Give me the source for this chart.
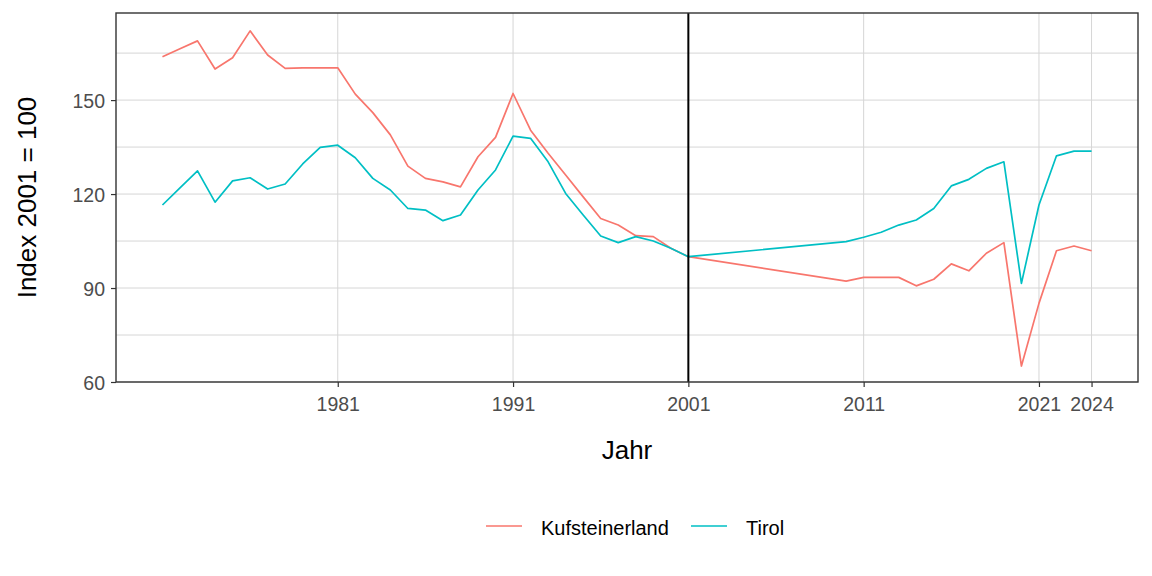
<!DOCTYPE html>
<html>
<head>
<meta charset="utf-8">
<script src="https://cdn.jsdelivr.net/npm/d3@7"></script>
<style>
  body { margin: 0; background: #fff; }
  svg { display: block; }
</style>
</head>
<body>
<div id="chart"></div>
<script>
  const years = [
    1971, 1972, 1973, 1974, 1975, 1976, 1977, 1978, 1979, 1980,
    1981, 1982, 1983, 1984, 1985, 1986, 1987, 1988, 1989, 1990,
    1991, 1992, 1993, 1994, 1995, 1996, 1997, 1998, 1999, 2000, 2001,
    2010, 2011, 2012, 2013, 2014, 2015, 2016, 2017, 2018, 2019,
    2020, 2021, 2022, 2023, 2024
  ];
  const kufsteinerland = [
    163.8, 166.4, 168.9, 159.9, 163.5, 172.1, 164.4, 160.1, 160.3, 160.3,
    160.3, 151.9, 146.0, 138.9, 128.9, 125.0, 123.9, 122.3, 131.9, 138.1,
    152.1, 140.4, 133.0, 126.1, 119.1, 112.2, 110.1, 106.7, 106.4, 102.7, 100,
    92.2, 93.4, 93.4, 93.4, 90.7, 92.8, 97.7, 95.5, 101.1, 104.5,
    65.1, 85.1, 101.9, 103.4, 101.9
  ];
  const tirol = [
    116.5, 122.0, 127.4, 117.4, 124.2, 125.2, 121.6, 123.2, 129.6, 134.9,
    135.6, 131.6, 125.0, 121.3, 115.4, 114.9, 111.5, 113.3, 121.3, 127.7,
    138.5, 137.8, 130.3, 120.2, 113.3, 106.6, 104.5, 106.4, 105.0, 102.7, 100,
    104.8, 106.2, 107.8, 110.1, 111.7, 115.4, 122.6, 124.7, 128.2, 130.3,
    91.5, 116.5, 132.2, 133.7, 133.7
  ];
  const seriesNames = ["Kufsteinerland", "Tirol"];
  const seriesColors = ["#F8766D", "#00BFC4"];
  const xTicks = [1981, 1991, 2001, 2011, 2021, 2024];
  const yTicks = [60, 90, 120, 150];
  const yMinorTicks = [75, 105, 135, 165];
  const refYear = 2001;

  (function() {
    const WIDTH = 1152;
    const HEIGHT = 576;
    const FONT = "'Liberation Sans', Arial, sans-serif";
    const GRIDCOLOR = "#d6d6d6";
    const TEXTCOLOR = "#4d4d4d";

    const panel = { left: 116, top: 13, right: 1138, bottom: 382 };

    const svg = d3
      .select("#chart")
      .append("svg")
      .attr("width", WIDTH)
      .attr("height", HEIGHT);

    // ggplot-ish 5% padding on x, fixed lower limit on y
    const xPad = (2024 - 1971) * 0.05;
    const x = d3
      .scaleLinear()
      .domain([1971 - xPad, 2024 + xPad])
      .range([panel.left, panel.right]);
    const y = d3
      .scaleLinear()
      .domain([60, 177.8])
      .range([panel.bottom, panel.top]);

    const grid = svg.append("g");
    grid
      .selectAll("line.minor")
      .data(yMinorTicks)
      .enter()
      .append("line")
      .attr("x1", panel.left)
      .attr("x2", panel.right)
      .attr("y1", d => y(d))
      .attr("y2", d => y(d))
      .attr("stroke", GRIDCOLOR)
      .attr("stroke-width", 1);
    grid
      .selectAll("line.majorY")
      .data(yTicks)
      .enter()
      .append("line")
      .attr("x1", panel.left)
      .attr("x2", panel.right)
      .attr("y1", d => y(d))
      .attr("y2", d => y(d))
      .attr("stroke", GRIDCOLOR)
      .attr("stroke-width", 1);
    grid
      .selectAll("line.majorX")
      .data(xTicks)
      .enter()
      .append("line")
      .attr("x1", d => x(d))
      .attr("x2", d => x(d))
      .attr("y1", panel.top)
      .attr("y2", panel.bottom)
      .attr("stroke", GRIDCOLOR)
      .attr("stroke-width", 1);

    // lines
    const rows = years.map((yr, i) => ({ year: yr, values: [kufsteinerland[i], tirol[i]] }));
    const line = idx =>
      d3
        .line()
        .x(d => x(d.year))
        .y(d => y(d.values[idx]));

    seriesNames.forEach((name, i) => {
      svg
        .append("path")
        .datum(rows)
        .attr("d", line(i))
        .attr("fill", "none")
        .attr("stroke", seriesColors[i])
        .attr("stroke-width", 1.7)
        .attr("stroke-linejoin", "round");
    });

    // reference year
    svg
      .append("line")
      .attr("x1", x(refYear))
      .attr("x2", x(refYear))
      .attr("y1", panel.top)
      .attr("y2", panel.bottom)
      .attr("stroke", "#000")
      .attr("stroke-width", 2);

    // panel border
    svg
      .append("rect")
      .attr("x", panel.left)
      .attr("y", panel.top)
      .attr("width", panel.right - panel.left)
      .attr("height", panel.bottom - panel.top)
      .attr("fill", "none")
      .attr("stroke", "#333333")
      .attr("stroke-width", 1.4);

    // axes
    const bottomAxis = d3
      .axisBottom(x)
      .tickValues(xTicks)
      .tickFormat(d3.format("d"))
      .tickSize(5)
      .tickPadding(6);
    const xAxisG = svg
      .append("g")
      .attr("transform", `translate(0, ${panel.bottom})`)
      .call(bottomAxis);

    const leftAxis = d3
      .axisLeft(y)
      .tickValues(yTicks)
      .tickSize(5)
      .tickPadding(6);
    const yAxisG = svg
      .append("g")
      .attr("transform", `translate(${panel.left}, 0)`)
      .call(leftAxis);

    [xAxisG, yAxisG].forEach(g => {
      g.select(".domain").remove();
      g.selectAll(".tick line").attr("stroke", "#333333").attr("stroke-width", 1.2);
      g.selectAll(".tick text")
        .style("font-family", FONT)
        .style("font-size", "19.5px")
        .attr("fill", TEXTCOLOR);
    });
    xAxisG.selectAll(".tick text").attr("dy", "0.9em");
    yAxisG.selectAll(".tick text").attr("dy", "0.36em");

    // axis titles
    svg
      .append("text")
      .attr("x", (panel.left + panel.right) / 2)
      .attr("y", 459)
      .attr("text-anchor", "middle")
      .style("font-family", FONT)
      .style("font-size", "26px")
      .attr("fill", "#000")
      .text("Jahr");
    svg
      .append("text")
      .attr("transform", `translate(36, ${(panel.top + panel.bottom) / 2}) rotate(-90)`)
      .attr("text-anchor", "middle")
      .style("font-family", FONT)
      .style("font-size", "26px")
      .attr("fill", "#000")
      .text("Index 2001 = 100");

    // legend
    const legendItems = [
      { name: seriesNames[0], color: seriesColors[0], x: 486 },
      { name: seriesNames[1], color: seriesColors[1], x: 691 }
    ];
    const legend = svg.append("g");
    const item = legend
      .selectAll("g")
      .data(legendItems)
      .enter()
      .append("g")
      .attr("transform", d => `translate(${d.x}, 526)`);
    item
      .append("line")
      .attr("x1", 0)
      .attr("x2", 36)
      .attr("stroke", d => d.color)
      .attr("stroke-width", 1.7);
    item
      .append("text")
      .attr("x", 55)
      .attr("y", 9)
      .style("font-family", FONT)
      .style("font-size", "20px")
      .attr("fill", "#000")
      .text(d => d.name);
  })();
</script>
</body>
</html>
